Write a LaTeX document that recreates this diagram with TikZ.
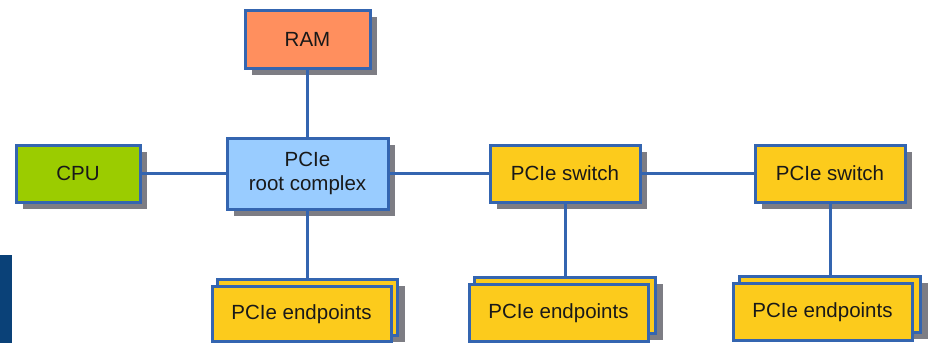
\documentclass[tikz,border=0pt]{standalone}
\usepackage{fontspec}
\setmainfont{Liberation Sans}
\usetikzlibrary{shadows}
\definecolor{bordercol}{RGB}{52,101,176}
\definecolor{ramcol}{RGB}{255,143,94}
\definecolor{cpucol}{RGB}{155,204,0}
\definecolor{rootcol}{RGB}{153,204,255}
\definecolor{ycol}{RGB}{252,203,28}
\definecolor{shadowcol}{RGB}{125,125,132}
\definecolor{barcol}{RGB}{10,65,120}
\definecolor{txtcol}{RGB}{25,25,25}
\tikzset{
  box/.style={draw=bordercol, line width=3pt, rectangle, inner sep=0pt,
    font=\fontsize{20.5}{24}\selectfont, text=txtcol, align=center},
  shad/.style={drop shadow={shadow xshift=7pt, shadow yshift=-7pt, fill=shadowcol, opacity=1}},
  conn/.style={draw=bordercol, line width=3pt}
}
\begin{document}
\begin{tikzpicture}[x=1pt,y=-1pt]
\useasboundingbox (0,0) rectangle (928,343);
\clip (0,0) rectangle (928,343);
\fill[barcol] (0,255) rectangle (12,343);
% top-level boxes
\node[box, shad, fill=ramcol, minimum width=125pt, minimum height=58pt] (ram) at (307.5,39) {RAM};
\node[box, shad, fill=cpucol, minimum width=124pt, minimum height=57pt] (cpu) at (78,173.5) {CPU};
\node[box, shad, fill=rootcol, minimum width=161pt, minimum height=71pt] (root) at (307.5,173.5) {PCIe\\root complex};
\node[box, shad, fill=ycol, minimum width=150pt, minimum height=57pt] (sw1) at (565,173.5) {PCIe switch};
\node[box, shad, fill=ycol, minimum width=150pt, minimum height=57pt] (sw2) at (830,173.5) {PCIe switch};
% endpoint stacks (back boxes)
\node[box, shad, fill=ycol, minimum width=180pt, minimum height=56pt] (ep1b) at (307.5,307) {};
\node[box, shad, fill=ycol, minimum width=181pt, minimum height=56pt] (ep2b) at (565,305) {};
\node[box, shad, fill=ycol, minimum width=181pt, minimum height=56pt] (ep3b) at (830,304) {};
% endpoint stacks (front boxes)
\node[box, fill=ycol, minimum width=179pt, minimum height=55pt] (ep1) at (301.5,314) {PCIe endpoints};
\node[box, fill=ycol, minimum width=179pt, minimum height=57pt] (ep2) at (558.5,313) {PCIe endpoints};
\node[box, fill=ycol, minimum width=179pt, minimum height=57pt] (ep3) at (822.5,312) {PCIe endpoints};
% connectors
\draw[conn] (ram.south) -- (root.north);
\draw[conn] (cpu.east) -- (root.west);
\draw[conn] (root.east) -- (sw1.west);
\draw[conn] (sw1.east) -- (sw2.west);
\draw[conn] (root.south) -- (root.south |- ep1b.north);
\draw[conn] (sw1.south) -- (ep2b.north);
\draw[conn] (sw2.south) -- (ep3b.north);
\end{tikzpicture}
\end{document}
